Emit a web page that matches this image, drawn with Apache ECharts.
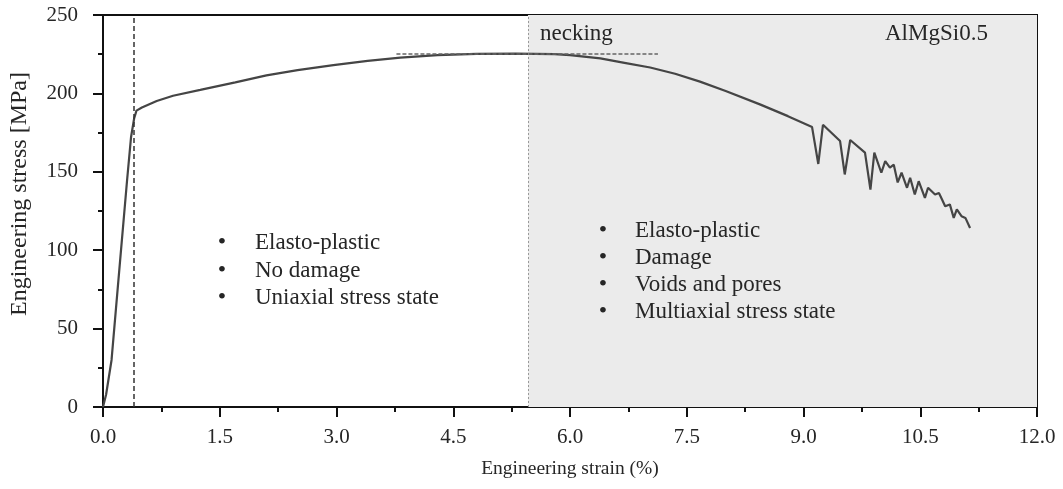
<!DOCTYPE html>
<html>
<head>
<meta charset="utf-8">
<style>
  html, body { margin: 0; padding: 0; background: #ffffff; }
  #chart { width: 1063px; height: 489px; }
</style>
<script src="https://cdn.jsdelivr.net/npm/echarts@6/dist/echarts.min.js"></script>
</head>
<body>
<div id="chart"></div>
<script>
// Tensile test of AlMgSi0.5: engineering strain (%) vs engineering stress (MPa)
const strainPct = [
  0, 0.04, 0.11, 0.2, 0.31, 0.36, 0.4, 0.43, 0.5, 0.69, 0.9, 1.25, 1.7, 2.1, 2.5, 2.96,
  3.4, 3.82, 4.3, 4.8, 5.3, 5.8, 6.0, 6.39, 6.7, 7.03, 7.35, 7.67, 8.0, 8.44, 8.8, 9.11,
  9.19, 9.25, 9.47, 9.53, 9.6, 9.79, 9.86, 9.91, 10.0, 10.05, 10.11, 10.16, 10.21, 10.26,
  10.33, 10.37, 10.43, 10.48, 10.56, 10.6, 10.69, 10.74, 10.78, 10.82, 10.88, 10.93,
  10.97, 11.03, 11.08, 11.14
];
const stressMPa = [
  0, 8, 30, 82, 145, 172, 184, 189, 191, 195.2, 198.5, 202.2, 207, 211.5, 214.8, 218,
  220.8, 222.8, 224.4, 225.2, 225.4, 225, 224.4, 222.3, 219.5, 216.5, 212.5, 207.5, 201.5, 193, 185.5, 178.5,
  155, 180, 169.6, 148.3, 170.3, 162.2, 138.7, 162.2, 149.4, 156.8, 152.6, 154.5, 143.2, 149.4,
  139.8, 146.2, 135.5, 144, 133.4, 139.8, 135.5, 136.5, 132.3, 128, 129.2, 120.6,
  126, 121.7, 120.6, 114.2
];

// Region boundaries and reference lines
const yieldStrain = 0.385;
const neckingStrain = 5.46;
const plateauStress = 225.5;
const plateauSpan = [3.77, 7.13];

// Axis settings
const xTickStep = 1.5;
const yTickStep = 50;

// Annotation text
const leftNotes = ['Elasto-plastic', 'No damage', 'Uniaxial stress state'];
const rightNotes = ['Elasto-plastic', 'Damage', 'Voids and pores', 'Multiaxial stress state'];

const curve = strainPct.map((x, i) => [x, stressMPa[i]]);

const serif = '"Liberation Serif", "DejaVu Serif", serif';
const textColor = '#262626';

function noteGraphics(lines, bulletX, textX, firstY, step) {
  const out = [];
  lines.forEach((t, i) => {
    const y = firstY + i * step;
    out.push({ type: 'text', x: bulletX, y: y, z: 100,
      style: { text: '\u2022', font: '24px ' + serif, fill: textColor,
        textAlign: 'center', textVerticalAlign: 'middle' } });
    out.push({ type: 'text', x: textX, y: y, z: 100,
      style: { text: t, font: '23px ' + serif, fill: textColor,
        textAlign: 'left', textVerticalAlign: 'middle' } });
  });
  return out;
}

const chart = echarts.init(document.getElementById('chart'), null, { renderer: 'canvas' });

chart.setOption({
  animation: false,
  backgroundColor: '#ffffff',
  grid: { left: 103, right: 26, top: 15, bottom: 82, outerBoundsMode: 'none', containLabel: false,
    show: true, borderColor: '#111', borderWidth: 2, backgroundColor: 'transparent' },
  xAxis: {
    type: 'value', min: 0, max: 12, interval: xTickStep,
    name: 'Engineering strain (%)', nameLocation: 'middle', nameGap: 52,
    nameTextStyle: { fontFamily: serif, fontSize: 19.5, color: textColor },
    axisLine: { show: true, lineStyle: { color: '#111', width: 2 } },
    axisTick: { show: true, inside: false, length: 10, lineStyle: { color: '#111', width: 2 } },
    minorTick: { show: true, splitNumber: 2, length: 5, lineStyle: { color: '#111', width: 2 } },
    axisLabel: { fontFamily: serif, fontSize: 21, color: textColor, margin: 20,
      formatter: v => v.toFixed(1) },
    splitLine: { show: false }
  },
  yAxis: {
    type: 'value', min: 0, max: 250, interval: yTickStep,
    axisLine: { show: true, lineStyle: { color: '#111', width: 2 } },
    axisTick: { show: true, inside: false, length: 10, lineStyle: { color: '#111', width: 2 } },
    minorTick: { show: true, splitNumber: 2, length: 5, lineStyle: { color: '#111', width: 2 } },
    axisLabel: { fontFamily: serif, fontSize: 21, color: textColor, margin: 25 },
    splitLine: { show: false }
  },
  series: [
    {
      // necking region background and guide lines
      type: 'line', data: [], silent: true, z: 1,
      markArea: {
        silent: true,
        itemStyle: { color: '#ebebeb' },
        data: [[{ xAxis: neckingStrain, yAxis: 0 }, { xAxis: 12, yAxis: 250 }]]
      },
      markLine: {
        silent: true, symbol: 'none', label: { show: false },
        data: [
          { xAxis: yieldStrain, lineStyle: { color: '#333', width: 1.5, type: [5, 3] } },
          { xAxis: neckingStrain, lineStyle: { color: '#999', width: 1, type: [2, 2] } },
          [{ coord: [plateauSpan[0], plateauStress], lineStyle: { color: '#666', width: 1.5, type: [4, 2] } },
           { coord: [plateauSpan[1], plateauStress] }]
        ]
      }
    },
    {
      name: 'AlMgSi0.5', type: 'line', data: curve, showSymbol: false, z: 3,
      lineStyle: { color: '#454545', width: 2.2 },
      smooth: false
    }
  ],
  graphic: [
    // y-axis title
    { type: 'text', x: 20, y: 194, rotation: Math.PI / 2, z: 100,
      style: { text: 'Engineering stress [MPa]', font: '24px ' + serif, fill: textColor,
        textAlign: 'center', textVerticalAlign: 'middle' } },
    { type: 'text', x: 540, y: 34, z: 100, style: { text: 'necking', font: '23px ' + serif, fill: textColor, textVerticalAlign: 'middle' } },
    { type: 'text', x: 885, y: 34, z: 100, style: { text: 'AlMgSi0.5', font: '23px ' + serif, fill: textColor, textVerticalAlign: 'middle' } },
    ...noteGraphics(leftNotes, 222, 255, 243, 27.5),
    ...noteGraphics(rightNotes, 603, 635, 231, 27)
  ]
});
</script>
</body>
</html>
